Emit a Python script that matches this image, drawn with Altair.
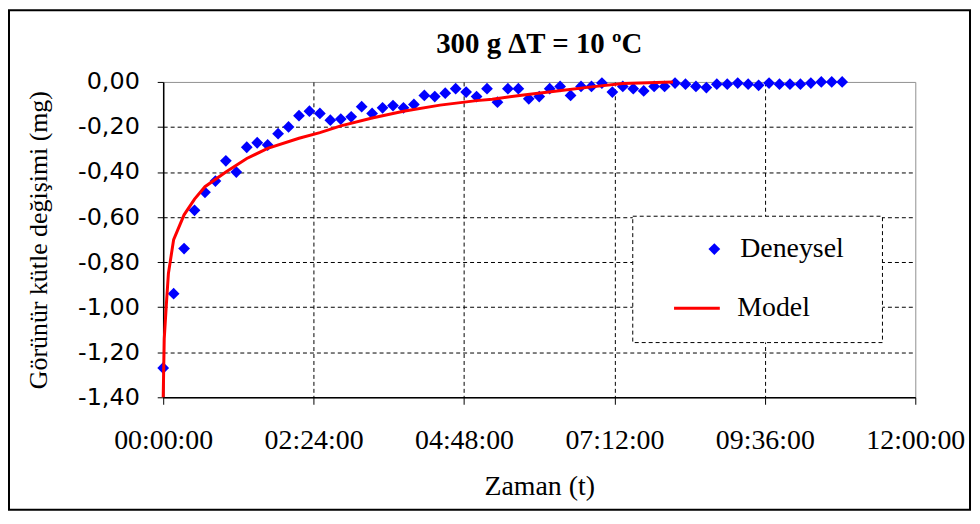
import altair as alt
import pandas as pd

# Experimental data (minutes, mg)
exp_t = [0, 10, 20, 30, 40, 50, 60, 70, 80, 90, 100, 110, 120, 130, 140, 150, 160, 170,
         180, 190, 200, 210, 220, 230, 240, 250, 260, 270, 280, 290, 300, 310, 320, 330,
         340, 350, 360, 370, 380, 390, 400, 410, 420, 430, 440, 450, 460, 470, 480, 490,
         500, 510, 520, 530, 540, 550, 560, 570, 580, 590, 600, 610, 620, 630, 640, 650]
exp_v = [-1.27, -0.94, -0.74, -0.57, -0.49, -0.44, -0.35, -0.40, -0.29, -0.27, -0.28, -0.23,
         -0.20, -0.15, -0.13, -0.14, -0.17, -0.165, -0.155, -0.11, -0.14, -0.115, -0.105,
         -0.115, -0.10, -0.06, -0.065, -0.05, -0.03, -0.045, -0.065, -0.03, -0.09, -0.03,
         -0.03, -0.075, -0.065, -0.03, -0.02, -0.06, -0.02, -0.02, -0.005, -0.045, -0.02,
         -0.03, -0.04, -0.02, -0.02, -0.005, -0.01, -0.02, -0.025, -0.01, -0.01, -0.005,
         -0.01, -0.015, -0.005, -0.01, -0.01, -0.01, -0.005, 0.0, 0.0, 0.0]

# Model curve
model_t = [0, 1, 3, 5, 10, 20, 30, 40, 60, 80, 100, 130, 150, 170, 200, 230, 265, 300,
           315, 345, 377, 410, 440, 488]
model_v = [-1.40, -1.14, -0.99, -0.85, -0.70, -0.59, -0.52, -0.465, -0.40, -0.34, -0.295,
           -0.25, -0.225, -0.195, -0.16, -0.13, -0.103, -0.083, -0.077, -0.058, -0.040,
           -0.022, -0.007, 0.0]

x_ticks = [0, 144, 288, 432, 576, 720]
y_ticks = [-1.4, -1.2, -1.0, -0.8, -0.6, -0.4, -0.2, 0.0]

exp_df = pd.DataFrame({"t": exp_t, "v": exp_v, "seri": "Deneysel"})
model_df = pd.DataFrame({"t": model_t, "v": model_v, "seri": "Model"})
one = pd.DataFrame({"k": [0]})

SERIF = "Liberation Serif"

x_enc = alt.X(
    "t:Q",
    scale=alt.Scale(domain=[0, 720], nice=False, zero=False),
    axis=alt.Axis(
        values=x_ticks,
        labelExpr="pad(floor(datum.value/60), 2, '0', 'left') + ':' + pad(datum.value % 60, 2, '0', 'left') + ':00'",
        labelFlush=False, labelOverlap=False,
        title="Zaman (t)",
        titleFont=SERIF, titleFontSize=28, titleFontWeight="normal", titleColor="black",
        titlePadding=19,
        labelFont=SERIF, labelFontSize=28, labelColor="black", labelPadding=22,
        tickSize=7, tickColor="black", domainColor="black", domainWidth=1.5,
        grid=True, gridColor="black", gridDash=[4, 3], gridWidth=1,
        gridOpacity={"condition": {"test": "datum.value >= 720 || datum.value <= 0", "value": 0}, "value": 1},
    ),
)
y_enc = alt.Y(
    "v:Q",
    scale=alt.Scale(domain=[-1.4, 0], nice=False, zero=False),
    axis=alt.Axis(
        values=y_ticks,
        labelExpr="replace(replace(format(datum.value, '.2f'), '.', ','), '\u2212', '-')",
        labelOverlap=False,
        title="Görünür kütle değişimi (mg)",
        titleFont=SERIF, titleFontSize=26, titleFontWeight="normal", titleColor="black",
        titlePadding=26,
        labelFont="DejaVu Sans", labelFontSize=24, labelColor="black", labelPadding=18,
        tickSize=6, tickColor="black", domainColor="black", domainWidth=1.5,
        grid=True, gridColor="black", gridDash=[4, 3], gridWidth=1,
        gridOpacity={"condition": {"test": "datum.value >= 0 || datum.value <= -1.4", "value": 0}, "value": 1},
    ),
)

legend_box = alt.Chart(one).mark_rect(
    fill="white", stroke="black", strokeWidth=1, strokeDash=[4, 3]
).encode(x=alt.value(472), x2=alt.value(723), y=alt.value(135), y2=alt.value(262))

points = alt.Chart(exp_df).mark_point(
    shape="diamond", filled=True, size=140, opacity=1
).encode(
    x=x_enc, y=y_enc,
    color=alt.Color(
        "seri:N",
        scale=alt.Scale(domain=["Deneysel"], range=["#0000FF"]),
        legend=alt.Legend(
            title=None, orient="none", legendX=540, legendY=154,
            symbolType="diamond", symbolSize=140, symbolOpacity=1,
            labelFont=SERIF, labelFontSize=28, labelColor="black", labelOffset=12,
            padding=0,
        ),
    ),
)

line = alt.Chart(model_df).mark_line(strokeWidth=3).encode(
    x=x_enc, y=y_enc,
    stroke=alt.Stroke(
        "seri:N",
        scale=alt.Scale(domain=["Model"], range=["#FF0000"]),
        legend=alt.Legend(
            title=None, orient="none", legendX=512, legendY=203,
            symbolType="stroke", symbolSize=2116, symbolStrokeWidth=3,
            labelFont=SERIF, labelFontSize=28, labelColor="black", labelOffset=16,
            padding=0,
        ),
    ),
)

border = alt.Chart(one).mark_rect(
    fill="transparent", stroke="black", strokeWidth=2
).encode(x=alt.value(-155), x2=alt.value(811), y=alt.value(-72), y2=alt.value(430))

chart = alt.layer(legend_box, points, line, border).resolve_scale(
    color="independent"
).properties(
    width=756,
    height=317,
    title=alt.TitleParams(
        text="300 g ΔT = 10 ºC", font=SERIF, fontSize=29, fontWeight="bold",
        color="black", anchor="middle", offset=-50,
    ),
    autosize=alt.AutoSizeParams(type="none"),
    padding={"left": 156, "top": 73, "right": 57, "bottom": 115},
    background="white",
).configure_view(stroke="#909090", strokeWidth=1)

chart.save("out.html", embed_options={"renderer": "svg", "actions": False})
